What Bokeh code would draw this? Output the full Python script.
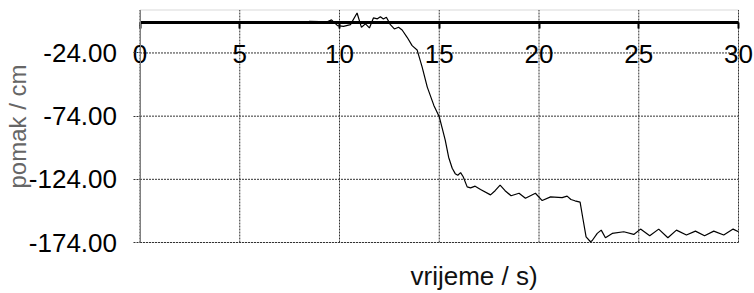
from bokeh.plotting import figure
from bokeh.models import FixedTicker, NumeralTickFormatter, Range1d, Label, BoxAnnotation
from bokeh.embed import file_html
from bokeh.resources import INLINE

# time (s)
t = [0.0, 8.3, 8.5, 9.0, 9.3, 9.6, 9.9, 10.2, 10.55, 10.88, 11.1, 11.3, 11.5, 11.7,
     11.9, 12.05, 12.2, 12.35, 12.55, 12.75, 12.96, 13.14, 13.39, 13.64, 13.89,
     14.14, 14.4, 14.73, 15.0, 15.15, 15.3, 15.47, 15.65, 15.8, 15.93, 16.07, 16.2,
     16.4, 16.57, 16.8, 17.07, 17.57, 17.8, 18.05, 18.3, 18.6, 18.8, 19.0, 19.32,
     19.82, 20.16, 20.58, 21.16, 21.41, 21.6, 21.8, 22.06, 22.2, 22.36, 22.58,
     22.66, 22.92, 23.12, 23.33, 23.67, 24.25, 24.75, 25.09, 25.55, 26.0, 26.46,
     26.89, 27.39, 27.84, 28.3, 28.76, 29.26, 29.73, 30.0]
# displacement (cm)
pomak = [0.0, 0.0, 1.0, 0.8, 0.0, 2.2, -2.4, -3.0, -1.6, 7.6, -3.7, -1.0, -4.2, 3.7,
         3.0, 4.7, 2.9, 4.2, -1.6, -5.0, -3.7, -5.8, -11.6, -18.2, -21.6,
         -35.0, -51.0, -65.5, -74.5, -83.7, -93.0, -106.5, -115.2, -119.5, -120.8, -118.7, -122.0,
         -130.0, -130.8, -129.4, -132.0, -136.3, -133.0, -128.6, -133.0, -137.0, -136.0, -135.0, -139.0,
         -135.0, -140.8, -137.9, -138.5, -137.3, -140.0, -141.0, -142.0, -155.0, -169.5, -173.4,
         -172.6, -166.8, -164.2, -170.2, -166.8, -165.5, -167.6, -163.4, -168.7, -163.4, -170.2,
         -164.2, -168.1, -165.0, -168.7, -165.0, -168.1, -163.4, -165.5]

x_ticks = [0, 5, 10, 15, 20, 25, 30]
y_ticks = [-174, -124, -74, -24]
X_MIN, X_MAX = 0, 30
Y_MIN, Y_MAX = -174, 10

FONT = "Liberation Sans"

# layout (canvas pixels) of the plotting box; the frame covers the whole canvas
W, H = 754, 293
BOX_L, BOX_R, BOX_T, BOX_B = 139.5, 738.0, 9.5, 242.0
sx = (BOX_R - BOX_L) / (X_MAX - X_MIN)
sy = (BOX_B - BOX_T) / (Y_MAX - Y_MIN)
x_range = Range1d(X_MIN - BOX_L / sx, X_MAX + (W - BOX_R) / sx)
y_range = Range1d(Y_MIN - (H - BOX_B) / sy, Y_MAX + BOX_T / sy)

p = figure(width=W, height=H, output_backend="svg", toolbar_location=None,
           x_range=x_range, y_range=y_range,
           min_border_left=0, min_border_right=0, min_border_top=0, min_border_bottom=0)
p.grid.visible = False
p.outline_line_color = None
p.background_fill_color = "white"
p.border_fill_color = "white"

# plot box
p.add_layout(BoxAnnotation(left=X_MIN, right=X_MAX, bottom=Y_MIN, top=Y_MAX,
                           fill_color=None, line_color="#808080", line_width=1,
                           level="underlay"))

# grid lines
GRID = dict(line_color="#333333", line_dash="2 1", line_width=1)
p.segment(x0=x_ticks, y0=[Y_MIN] * len(x_ticks), x1=x_ticks, y1=[Y_MAX] * len(x_ticks), **GRID)
p.segment(x0=[X_MIN] * len(y_ticks), y0=y_ticks, x1=[X_MAX] * len(y_ticks), y1=y_ticks, **GRID)

p.line(t, pomak, line_color="black", line_width=1.2)

# x axis drawn at y = 0
xa = p.xaxis[0]
xa.fixed_location = 0
xa.bounds = (X_MIN, X_MAX)
xa.ticker = FixedTicker(ticks=x_ticks)
xa.minor_tick_line_color = None
xa.axis_line_width = 3
xa.axis_line_color = "black"
xa.major_tick_in = 0
xa.major_tick_out = 6
xa.major_tick_line_width = 2
xa.major_tick_line_color = "black"
xa.major_label_standoff = 16
xa.major_label_text_font = FONT
xa.major_label_text_font_size = "26px"
xa.major_label_text_color = "black"

# y axis drawn at x = 0
ya = p.yaxis[0]
ya.fixed_location = X_MIN
ya.bounds = (Y_MIN, Y_MAX)
ya.ticker = FixedTicker(ticks=y_ticks)
ya.formatter = NumeralTickFormatter(format="0.00")
ya.minor_tick_line_color = None
ya.axis_line_color = "#808080"
ya.major_tick_in = 0
ya.major_tick_out = 7
ya.major_tick_line_color = "#333333"
ya.major_tick_line_dash = "2 1"
ya.major_label_standoff = 16
ya.major_label_text_font = FONT
ya.major_label_text_font_size = "26px"
ya.major_label_text_color = "black"
ya.axis_label = "pomak / cm"
ya.axis_label_text_font = FONT
ya.axis_label_text_font_size = "24px"
ya.axis_label_text_font_style = "normal"
ya.axis_label_text_color = "#666666"
ya.axis_label_standoff = -5

# x axis title
XT_PX, XT_BASE_PX = 410.0, 275.0
p.add_layout(Label(x=X_MIN + (XT_PX - BOX_L) / sx, y=Y_MIN - (XT_BASE_PX - BOX_B) / sy,
                   text="vrijeme / s)", text_align="left", text_baseline="alphabetic",
                   text_font=FONT, text_font_size="26px", text_color="#111111"))

open("out.html", "w").write(file_html(p, INLINE))
